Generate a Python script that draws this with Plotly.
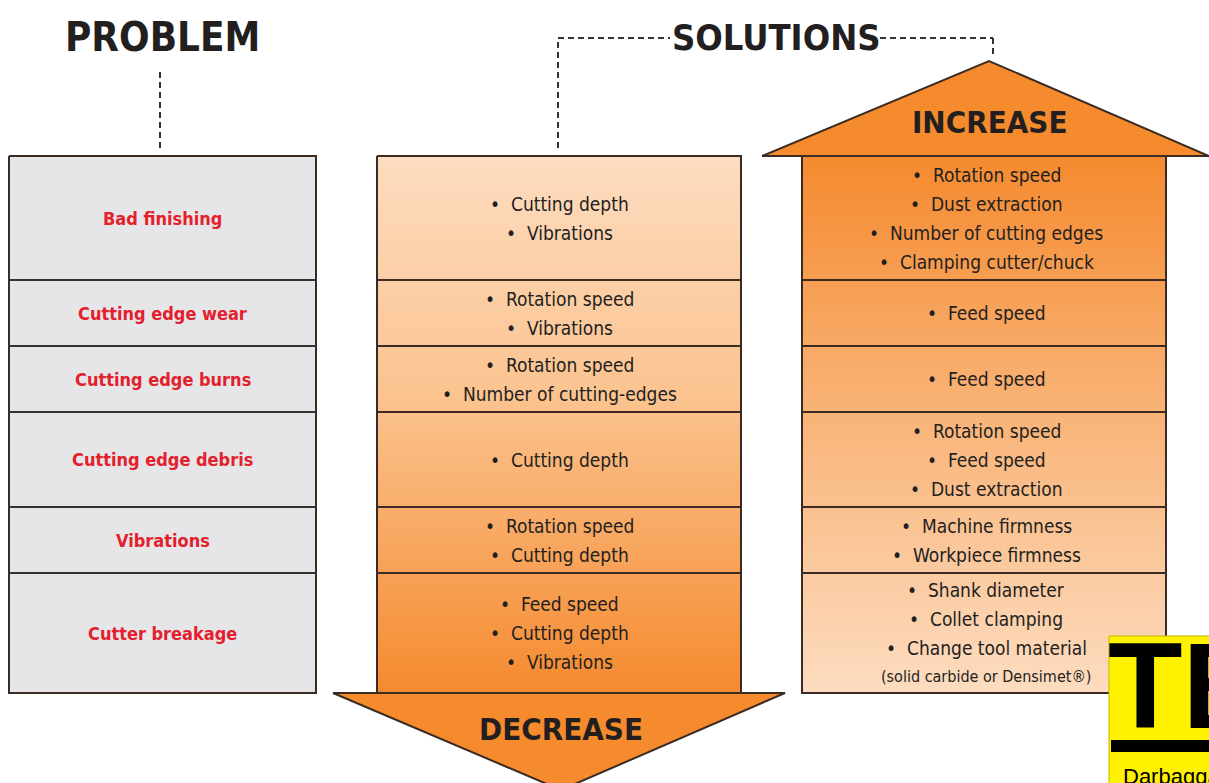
import plotly.graph_objects as go

# ---------------- data ----------------
problems = ["Bad finishing", "Cutting edge wear", "Cutting edge burns",
            "Cutting edge debris", "Vibrations", "Cutter breakage"]
decrease_items = [
    ["Cutting depth", "Vibrations"],
    ["Rotation speed", "Vibrations"],
    ["Rotation speed", "Number of cutting-edges"],
    ["Cutting depth"],
    ["Rotation speed", "Cutting depth"],
    ["Feed speed", "Cutting depth", "Vibrations"],
]
increase_items = [
    ["Rotation speed", "Dust extraction", "Number of cutting edges", "Clamping cutter/chuck"],
    ["Feed speed"],
    ["Feed speed"],
    ["Rotation speed", "Feed speed", "Dust extraction"],
    ["Machine firmness", "Workpiece firmness"],
    ["Shank diameter", "Collet clamping", "Change tool material"],
]
increase_note = "(solid carbide or Densimet®)"
headings = {"problem": "PROBLEM", "solutions": "SOLUTIONS",
            "increase": "INCREASE", "decrease": "DECREASE"}

# ---------------- layout constants (pixels) ----------------
W, H = 1209, 783
row_edges = [156, 280, 346, 412, 507, 573, 693]
col_left = (9, 316)
col_mid = (377, 741)
col_right = (802, 1166)
line_gap = 29

COND = "DejaVu Sans Condensed, Liberation Sans Narrow, Arial Narrow, sans-serif"
BORDER = "#3b2b22"
TEXT = "#231f20"
RED = "#e3202b"
ORANGE = "#f68b2e"
LIGHT = "#fddcc0"

fig = go.Figure()

def rect_trace(x0, x1, y0, y1, fill=None, gradient=None):
    kw = dict(x=[x0, x1, x1, x0, x0], y=[y0, y0, y1, y1, y0], mode="lines",
              fill="toself", line=dict(color=BORDER, width=2),
              hoverinfo="skip", showlegend=False)
    if gradient is not None:
        kw["fillgradient"] = dict(type="vertical", colorscale=gradient,
                                  start=y0, stop=y1)
    else:
        kw["fillcolor"] = fill
    fig.add_trace(go.Scatter(**kw))

# left column (grey)
rect_trace(col_left[0], col_left[1], row_edges[0], row_edges[-1], fill="#e6e6e9")

# decrease arrow head (below middle column)
fig.add_trace(go.Scatter(x=[333, 785, 561, 333], y=[693, 693, 790, 693],
                         mode="lines", fill="toself", fillcolor=ORANGE,
                         line=dict(color=BORDER, width=2), hoverinfo="skip",
                         showlegend=False))
# increase arrow head (above right column)
fig.add_trace(go.Scatter(x=[762, 1209, 989, 762], y=[156, 156, 61, 156],
                         mode="lines", fill="toself", fillcolor=ORANGE,
                         line=dict(color=BORDER, width=2), hoverinfo="skip",
                         showlegend=False))

# middle column gradient light -> orange
rect_trace(col_mid[0], col_mid[1], row_edges[0], row_edges[-1],
           gradient=[[0, LIGHT], [0.45, "#fbc38f"], [1, "#f58a2f"]])
# right column gradient orange -> light
rect_trace(col_right[0], col_right[1], row_edges[0], row_edges[-1],
           gradient=[[0, "#f58a2f"], [0.4, "#f8ad6c"], [1, LIGHT]])

shapes = []
for y in row_edges[1:-1]:
    for c, col in ((col_left, "#333333"), (col_mid, BORDER), (col_right, BORDER)):
        shapes.append(dict(type="line", x0=c[0], x1=c[1], y0=y, y1=y,
                           line=dict(color=col, width=2)))

dash = dict(color="#333333", width=2, dash="6px,4px")
shapes += [
    dict(type="line", x0=160, x1=160, y0=72, y1=148, line=dash),
    dict(type="line", x0=558, x1=558, y0=148, y1=38, line=dash),
    dict(type="line", x0=558, x1=670, y0=38, y1=38, line=dash),
    dict(type="line", x0=880, x1=993, y0=38, y1=38, line=dash),
    dict(type="line", x0=993, x1=993, y0=38, y1=58, line=dash),
    # logo
    dict(type="rect", x0=1109, x1=1212, y0=636, y1=790, fillcolor="#fff200",
         line=dict(color="#c8b400", width=1)),
    dict(type="rect", x0=1111, x1=1212, y0=740, y1=752, fillcolor="#000000",
         line=dict(width=0)),
]

ann = []
def text(x, y, s, size, color=TEXT, family=COND, bold=False, xanchor="center"):
    ann.append(dict(x=x, y=y, text=(f"<b>{s}</b>" if bold else s), showarrow=False,
                    xanchor=xanchor, yanchor="middle",
                    font=dict(size=size, color=color, family=family)))

mid_x = (col_mid[0] + col_mid[1]) / 2
right_x = (col_right[0] + col_right[1]) / 2 + 2
left_x = (col_left[0] + col_left[1]) / 2

for i, p in enumerate(problems):
    cy = (row_edges[i] + row_edges[i + 1]) / 2
    text(left_x, cy, p, 18, color=RED, bold=True)

    items = decrease_items[i]
    n = len(items)
    for k, it in enumerate(items):
        text(mid_x, cy + (k - (n - 1) / 2) * line_gap, "•  " + it, 19)

    items = list(increase_items[i])
    lines = ["•  " + s for s in items]
    if i == len(problems) - 1:
        lines.append(increase_note)
    n = len(lines)
    for k, it in enumerate(lines):
        size = 16 if it == increase_note else 19
        text(right_x, cy + (k - (n - 1) / 2) * line_gap, it, size)

text(162, 37, headings["problem"], 40, bold=True)
text(776, 37, headings["solutions"], 36, bold=True)
text(989, 122, headings["increase"], 31, bold=True)
text(561, 729, headings["decrease"], 31, bold=True)

# logo text
text(1106, 686, "TB", 122, color="#000000", family="Liberation Sans, Arial, sans-serif",
     bold=True, xanchor="left")
text(1121, 776, "Darbaggal", 22, color="#000000", family="Liberation Sans, Arial, sans-serif",
     xanchor="left")

fig.update_layout(
    width=W, height=H, margin=dict(l=0, r=0, t=0, b=0),
    paper_bgcolor="white", plot_bgcolor="white",
    xaxis=dict(range=[0, W], visible=False, fixedrange=True),
    yaxis=dict(range=[H, 0], visible=False, fixedrange=True),
    shapes=shapes, annotations=ann, showlegend=False,
)
fig.write_html("out.html", config={"displayModeBar": False},
               post_script="document.body.style.margin='0';document.body.style.overflow='hidden';")
